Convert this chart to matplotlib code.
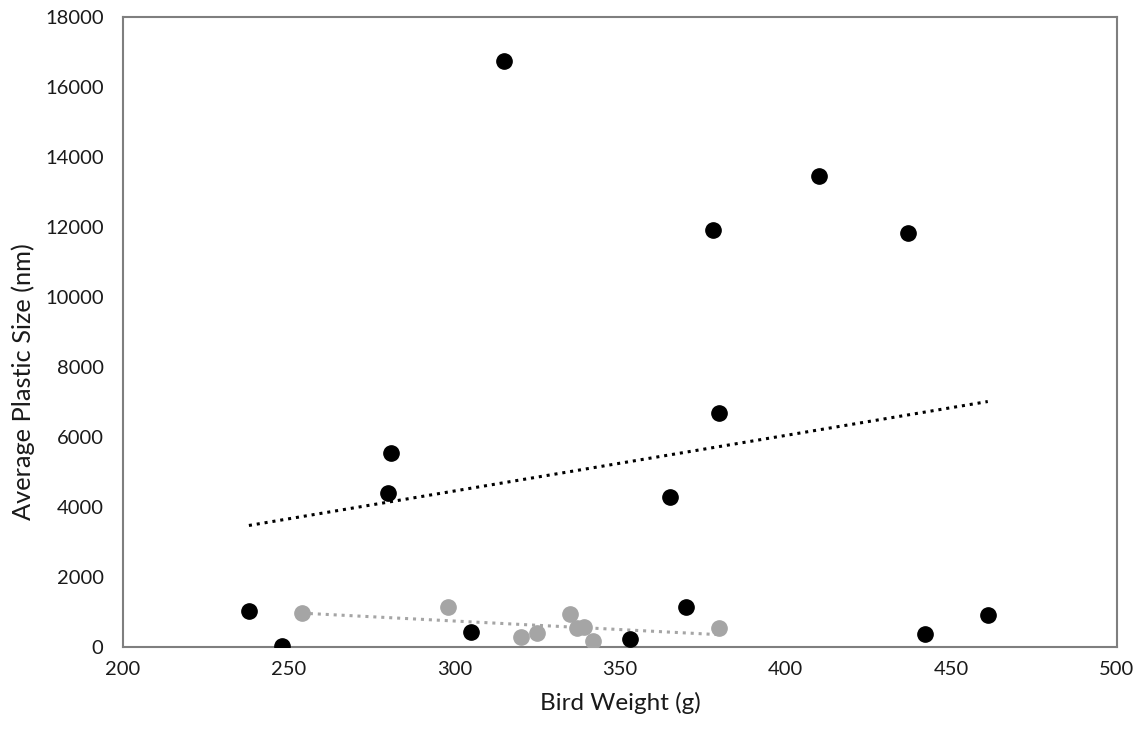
import numpy as np
import matplotlib.pyplot as plt

plt.rcParams['font.family'] = ['Lato', 'DejaVu Sans']

# black series
weight_a = [238, 248, 280, 281, 315, 305, 353, 365, 370, 378, 380, 410, 437, 442, 461]
size_a = [1020, 20, 4400, 5540, 16740, 430, 230, 4290, 1130, 11910, 6690, 13460, 11830, 370, 910]

# gray series
weight_b = [254, 298, 320, 325, 335, 337, 339, 342, 380]
size_b = [960, 1140, 290, 410, 930, 540, 580, 160, 550]

fig = plt.figure(figsize=(11.42, 7.35), dpi=100)
ax = fig.add_axes([123/1142, 1 - 647/735, (1117-123)/1142, (647-17)/735])

# trend lines (linear fit, like excel)
for w, s, c in [(weight_a, size_a, 'black'), (weight_b, size_b, '#a5a5a5')]:
    k, b = np.polyfit(w, s, 1)
    xs = np.array([min(w), max(w)])
    ax.plot(xs, k*xs + b, linestyle=(0, (1, 1.6)), color=c, linewidth=2.2, zorder=2)

ax.plot(weight_a, size_a, 'o', color='black', markersize=11, zorder=3)
ax.plot(weight_b, size_b, 'o', color='#a5a5a5', markersize=11, zorder=3)

ax.set_xlim(200, 500)
ax.set_ylim(0, 18000)
ax.set_xticks(range(200, 501, 50))
ax.set_yticks(range(0, 18001, 2000))
ax.tick_params(length=0, labelsize=14.5, colors='#1a1a1a')
ax.tick_params(axis='y', pad=14)
ax.tick_params(axis='x', pad=10)
for sp in ax.spines.values():
    sp.set_color('#7f7f7f')
    sp.set_linewidth(1.5)

ax.set_xlabel('Bird Weight (g)', fontsize=17.5, labelpad=10, color='#1a1a1a')
ax.set_ylabel('Average Plastic Size (nm)', fontsize=18.3, color='#1a1a1a')
# excel puts the y title a little below centre
ax.yaxis.set_label_coords(-88/994, 0.422, transform=ax.transAxes)

fig.savefig('out.png', dpi=100)
